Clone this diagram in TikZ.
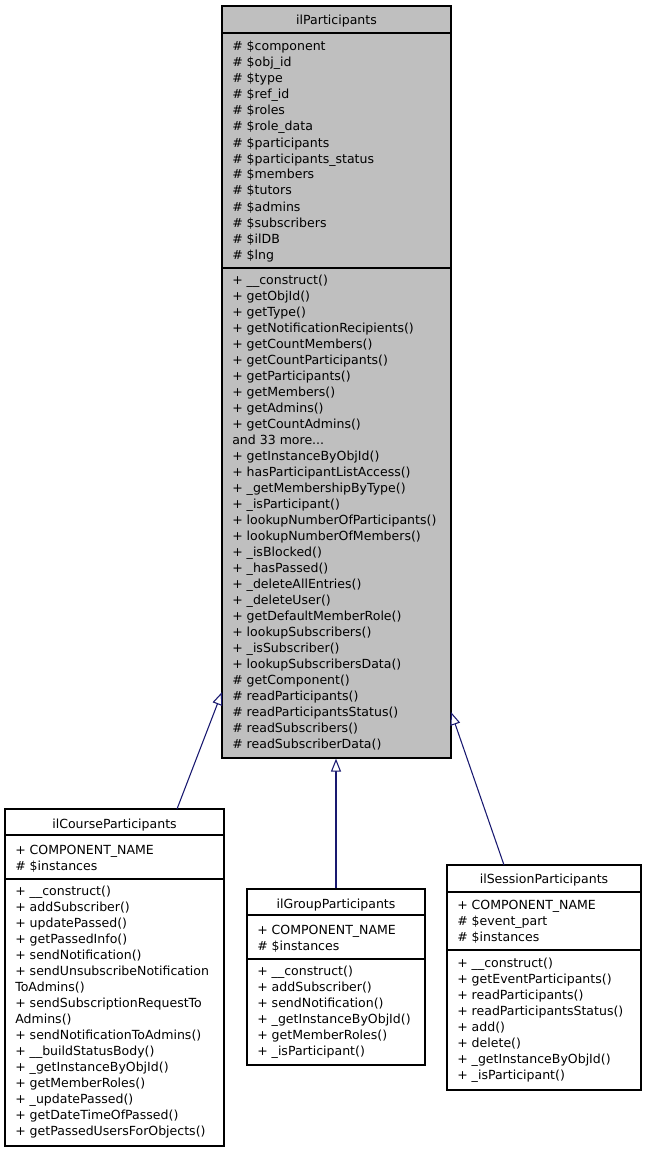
\documentclass[tikz,border=0pt]{standalone}
\usepackage{fontspec}
\setmainfont{DejaVu Sans}
\usetikzlibrary{arrows.meta,fit}
\definecolor{boxgray}{HTML}{BFBFBF}
\definecolor{edgeblue}{HTML}{191970}
\newcommand{\threedots}{.\kern0pt.\kern0pt.}
\tikzset{
  classbox/.style={draw=black, line width=0.9pt, inner sep=0pt, rectangle},
  sepline/.style={draw=black, line width=1.4pt},
  txt/.style={font=\fontsize{9.4}{12}\selectfont, inner sep=0pt, anchor=base west},
  ttl/.style={font=\fontsize{9.4}{12}\selectfont, inner sep=0pt, anchor=base},
  inherit/.style={draw=edgeblue, line width=0.8pt, -{Triangle[fill=white, length=9.75pt, width=7.5pt]}}
}
\begin{document}
\begin{tikzpicture}[x=0.75pt,y=-0.75pt]
\useasboundingbox (0,0) rectangle (645,1152);
% ---------- ilParticipants ----------
\node[classbox, fill=boxgray, fit={(222,6) (451,758)}] (main) {};
\node[ttl] (maint) at (336.5,25) {ilParticipants};
\draw[sepline] (main.west |- 0,33) -- (main.east |- 0,33);
\draw[sepline] (main.west |- 0,268) -- (main.east |- 0,268);
\foreach \t [count=\i from 0] in {\# \$component, \# \$obj\_id, \# \$type, \# \$ref\_id, \# \$roles, \# \$role\_data, \# \$participants, \# \$participants\_status, \# \$members, \# \$tutors, \# \$admins, \# \$subscribers, \# \$ilDB, \# \$lng}
  \node[txt] (ma\i) at (232,51+16*\i) {\t};
\foreach \t [count=\i from 0] in {+ \_\_construct(), + getObjId(), + getType(), + getNotificationRecipients(), + getCountMembers(), + getCountParticipants(), + getParticipants(), + getMembers(), + getAdmins(), + getCountAdmins(), {and 33 more\threedots}, + getInstanceByObjId(), + hasParticipantListAccess(), + \_getMembershipByType(), + \_isParticipant(), + lookupNumberOfParticipants(), + lookupNumberOfMembers(), + \_isBlocked(), + \_hasPassed(), + \_deleteAllEntries(), + \_deleteUser(), + getDefaultMemberRole(), + lookupSubscribers(), + \_isSubscriber(), + lookupSubscribersData(), \# getComponent(), \# readParticipants(), \# readParticipantsStatus(), \# readSubscribers(), \# readSubscriberData()}
  \node[txt] (mm\i) at (232,284.5+16*\i) {\t};
% ---------- ilCourseParticipants ----------
\node[classbox, fill=white, fit={(5,809) (224,1146)}] (course) {};
\node[ttl] (courset) at (114.5,828) {ilCourseParticipants};
\draw[sepline] (course.west |- 0,835) -- (course.east |- 0,835);
\draw[sepline] (course.west |- 0,879) -- (course.east |- 0,879);
\foreach \t [count=\i from 0] in {+ COMPONENT\_NAME, \# \$instances}
  \node[txt] (ca\i) at (15,854+16*\i) {\t};
\foreach \t [count=\i from 0] in {+ \_\_construct(), + addSubscriber(), + updatePassed(), + getPassedInfo(), + sendNotification(), + sendUnsubscribeNotification, ToAdmins(), + sendSubscriptionRequestTo, Admins(), + sendNotificationToAdmins(), + \_\_buildStatusBody(), + \_getInstanceByObjId(), + getMemberRoles(), + \_updatePassed(), + getDateTimeOfPassed(), + getPassedUsersForObjects()}
  \node[txt] (cm\i) at (15,895.5+16*\i) {\t};
% ---------- ilGroupParticipants ----------
\node[classbox, fill=white, fit={(247,889) (425,1065)}] (group) {};
\node[ttl] (groupt) at (336,908) {ilGroupParticipants};
\draw[sepline] (group.west |- 0,915) -- (group.east |- 0,915);
\draw[sepline] (group.west |- 0,959) -- (group.east |- 0,959);
\foreach \t [count=\i from 0] in {+ COMPONENT\_NAME, \# \$instances}
  \node[txt] (ga\i) at (257,934+16*\i) {\t};
\foreach \t [count=\i from 0] in {+ \_\_construct(), + addSubscriber(), + sendNotification(), + \_getInstanceByObjId(), + getMemberRoles(), + \_isParticipant()}
  \node[txt] (gm\i) at (257,975.5+16*\i) {\t};
% ---------- ilSessionParticipants ----------
\node[classbox, fill=white, fit={(447,865) (641,1090)}] (session) {};
\node[ttl] (sessiont) at (544,883) {ilSessionParticipants};
\draw[sepline] (session.west |- 0,892) -- (session.east |- 0,892);
\draw[sepline] (session.west |- 0,950) -- (session.east |- 0,950);
\foreach \t [count=\i from 0] in {+ COMPONENT\_NAME, \# \$event\_part, \# \$instances}
  \node[txt] (sa\i) at (457,909+16*\i) {\t};
\foreach \t [count=\i from 0] in {+ \_\_construct(), + getEventParticipants(), + readParticipants(), + readParticipantsStatus(), + add(), + delete(), + \_getInstanceByObjId(), + \_isParticipant()}
  \node[txt] (sm\i) at (457,967.5+16*\i) {\t};
% ---------- inheritance connectors ----------
\coordinate (courseTop) at (177,809);
\coordinate (mainLeft) at (222,692);
\coordinate (sessionTop) at (504,865);
\coordinate (mainRight) at (451,712);
\draw[inherit] (courseTop) -- (mainLeft);
\draw[inherit] (group.north) -- (group.north |- main.south);
\draw[inherit] (sessionTop) -- (mainRight);
\end{tikzpicture}
\end{document}
